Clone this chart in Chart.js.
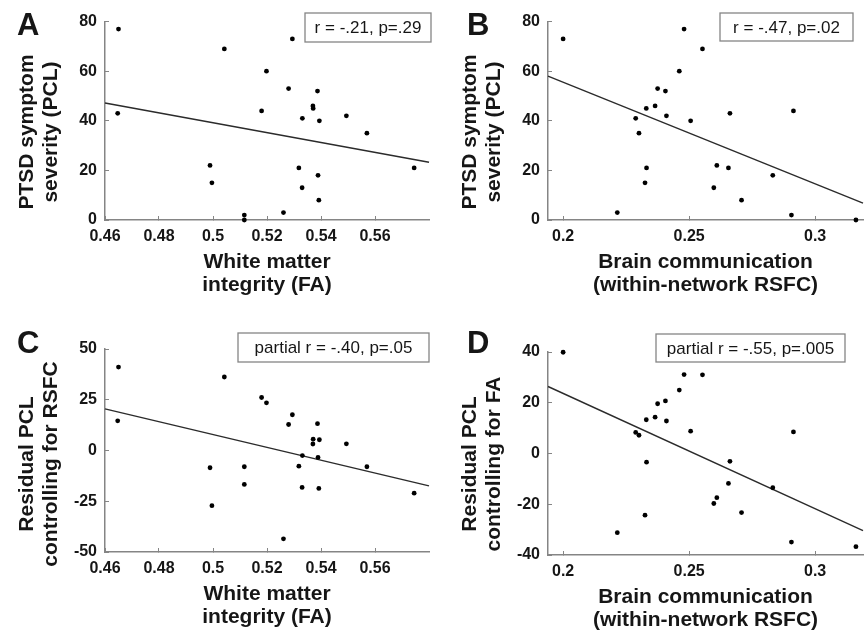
<!DOCTYPE html>
<html>
<head>
<meta charset="utf-8">
<script src="https://cdn.jsdelivr.net/npm/chart.js@4.4.1/dist/chart.umd.min.js"></script>
<style>
  body { margin: 0; background: #fff; }
  #fig { position: relative; width: 867px; height: 635px; overflow: hidden; }
  canvas { position: absolute; }
</style>
</head>
<body>
<div id="fig">
  <canvas id="chartA" width="433" height="300" style="left:0;top:0"></canvas>
  <canvas id="chartB" width="434" height="300" style="left:433px;top:0"></canvas>
  <canvas id="chartC" width="433" height="317" style="left:0;top:318px"></canvas>
  <canvas id="chartD" width="434" height="317" style="left:433px;top:318px"></canvas>
</div>
<script>
'use strict';

// subjects, same order in every panel
const faValues = [0.465, 0.4647, 0.5042, 0.4989, 0.4996, 0.5116, 0.5116, 0.518, 0.5198, 0.5294, 0.528, 0.5261,
    0.5318, 0.533, 0.5331, 0.537, 0.5371, 0.5387, 0.5394, 0.5389, 0.5392, 0.5494, 0.557, 0.5745];
const pclByFa = [77, 43, 69, 22, 15, 2, 0, 44, 60, 73, 53, 3, 21, 13, 41, 46, 45, 52, 40, 18, 8, 42, 35, 21];
const residByFa = [41.1, 14.6, 36.2, -8.5, -27.2, -8.0, -16.7, 26.1, 23.5, 17.6, 12.8, -43.5,
    -7.7, -18.2, -2.5, 3.2, 5.6, 13.2, 5.3, -3.4, -18.7, 3.3, -8.0, -21.0];

const rsfcValues = [0.2, 0.248, 0.2553, 0.2461, 0.2375, 0.2406, 0.233, 0.2365, 0.2288, 0.241, 0.2506, 0.2301,
    0.2331, 0.2325, 0.2215, 0.2662, 0.261, 0.2656, 0.2598, 0.2708, 0.2832, 0.2914, 0.2906, 0.3162];
const pclByRsfc = [73, 77, 69, 60, 53, 52, 45, 46, 41, 42, 40, 35, 21, 15, 3, 43, 22, 21, 13, 8, 18, 44, 2, 0];
const residByRsfc = [39.9, 31.1, 31.0, 25.0, 19.6, 20.7, 13.3, 14.3, 8.3, 12.8, 8.8, 7.2,
    -3.4, -24.3, -31.2, -3.1, -17.4, -11.8, -19.7, -23.3, -13.5, 8.5, -34.9, -36.7];

// fitted lines: [x, y] at both ends
const fitA = [[0.46, 47.2], [0.58, 23.3]];
const fitB = [[0.194, 58.0], [0.319, 6.8]];
const fitC = [[0.46, 20.5], [0.58, -17.4]];
const fitD = [[0.194, 26.4], [0.319, -30.4]];

// tick labels
const faTicks = [0.46, 0.48, 0.5, 0.52, 0.54, 0.56];
const rsfcTicks = [0.2, 0.25, 0.3];
const pclTicks = [0, 20, 40, 60, 80];
const residFaTicks = [-50, -25, 0, 25, 50];
const residRsfcTicks = [-40, -20, 0, 20, 40];

const FONT = "'Liberation Sans', Arial, Helvetica, sans-serif";
const AXIS_GRAY = '#858585';
const TEXT = '#161616';

Chart.defaults.font.family = FONT;

// letter, y title and stat box drawn on top of each panel
const panelDecor = {
    id: 'panelDecor',
    afterDraw(chart, args, o) {
        const ctx = chart.ctx;
        const area = chart.chartArea;
        ctx.save();
        ctx.fillStyle = TEXT;

        ctx.font = `bold 31px ${FONT}`;
        ctx.textAlign = 'left';
        ctx.textBaseline = 'alphabetic';
        ctx.fillText(o.letter, o.letterX, 35);

        ctx.font = `bold 21px ${FONT}`;
        ctx.textAlign = 'center';
        ctx.textBaseline = 'middle';
        for (let i = 0; i < o.yTitle.length; i++) {
            ctx.save();
            ctx.translate(area.left - 77.5 + i * 23.5, o.yTitleCenter);
            ctx.rotate(-Math.PI / 2);
            ctx.fillText(o.yTitle[i], 0, 0);
            ctx.restore();
        }

        const [bx, by, bw, bh] = o.box;
        ctx.strokeStyle = AXIS_GRAY;
        ctx.lineWidth = 1.3;
        ctx.fillStyle = '#fff';
        ctx.fillRect(bx, by, bw, bh);
        ctx.strokeRect(bx, by, bw, bh);
        ctx.fillStyle = TEXT;
        ctx.font = `17px ${FONT}`;
        ctx.fillText(o.stat, bx + bw / 2, by + bh / 2 + 1);
        ctx.restore();
    }
};

function fmt(v) {
    return String(+v.toFixed(3));
}

function makePanel(id, p) {
    const points = p.xs.map((x, i) => ({ x: x, y: p.ys[i] }));
    const line = p.fit.map(d => ({ x: d[0], y: d[1] }));

    return new Chart(document.getElementById(id), {
        type: 'scatter',
        data: {
            datasets: [
                {
                    data: points,
                    backgroundColor: '#000',
                    borderWidth: 0,
                    pointRadius: 2.4,
                    clip: false
                },
                {
                    data: line,
                    showLine: true,
                    borderColor: '#2b2b2b',
                    borderWidth: 1.4,
                    pointRadius: 0,
                    clip: false
                }
            ]
        },
        options: {
            responsive: false,
            animation: false,
            layout: { padding: { left: 0, top: p.top, right: p.right, bottom: 0 } },
            plugins: {
                legend: { display: false },
                tooltip: { enabled: false },
                panelDecor: p.decor
            },
            scales: {
                x: {
                    type: 'linear',
                    min: p.xMin,
                    max: p.xMax,
                    afterBuildTicks: s => { s.ticks = p.xTicks.map(v => ({ value: v })); },
                    afterFit: s => { s.height = p.xAxisHeight; },
                    grid: { drawOnChartArea: false, drawTicks: true, tickLength: -4, color: AXIS_GRAY, lineWidth: 1 },
                    border: { display: true, color: AXIS_GRAY, width: 1.5 },
                    ticks: { padding: 11, color: TEXT, font: { size: 16, weight: 'bold' }, callback: v => fmt(v) },
                    title: {
                        display: true,
                        text: p.xTitle,
                        color: TEXT,
                        font: { size: 21, weight: 'bold', lineHeight: 1.1 },
                        padding: { top: 0, bottom: p.xTitlePad }
                    }
                },
                y: {
                    type: 'linear',
                    min: p.yTicks[0],
                    max: p.yTicks[p.yTicks.length - 1],
                    afterBuildTicks: s => { s.ticks = p.yTicks.map(v => ({ value: v })); },
                    afterFit: s => { s.width = p.yAxisWidth; },
                    grid: { drawOnChartArea: false, drawTicks: true, tickLength: -4, color: AXIS_GRAY, lineWidth: 1 },
                    border: { display: true, color: AXIS_GRAY, width: 1.5 },
                    ticks: { padding: 12, color: TEXT, font: { size: 16, weight: 'bold' }, callback: v => fmt(v) }
                }
            }
        },
        plugins: [panelDecor]
    });
}

makePanel('chartA', {
    xs: faValues, ys: pclByFa, fit: fitA,
    xMin: 0.46, xMax: 0.58, xTicks: faTicks, yTicks: pclTicks,
    top: 17, right: 4, yAxisWidth: 105, xAxisHeight: 80, xTitlePad: 3,
    xTitle: ['White matter', 'integrity (FA)'],
    decor: { letter: 'A', letterX: 17, yTitle: ['PTSD symptom', 'severity (PCL)'], yTitleCenter: 132,
        stat: 'r = -.21, p=.29', box: [305, 13, 126, 29] }
});

makePanel('chartB', {
    xs: rsfcValues, ys: pclByRsfc, fit: fitB,
    xMin: 0.194, xMax: 0.319, xTicks: rsfcTicks, yTicks: pclTicks,
    top: 18, right: 0, yAxisWidth: 115, xAxisHeight: 80, xTitlePad: 3,
    xTitle: ['Brain communication', '(within-network RSFC)'],
    decor: { letter: 'B', letterX: 34, yTitle: ['PTSD symptom', 'severity (PCL)'], yTitleCenter: 132,
        stat: 'r = -.47, p=.02', box: [287, 13, 133, 28] }
});

makePanel('chartC', {
    xs: faValues, ys: residByFa, fit: fitC,
    xMin: 0.46, xMax: 0.58, xTicks: faTicks, yTicks: residFaTicks,
    top: 31, right: 4, yAxisWidth: 105, xAxisHeight: 83, xTitlePad: 6,
    xTitle: ['White matter', 'integrity (FA)'],
    decor: { letter: 'C', letterX: 17, yTitle: ['Residual PCL', 'controlling for RSFC'], yTitleCenter: 146,
        stat: 'partial r = -.40, p=.05', box: [238, 15, 191, 29] }
});

makePanel('chartD', {
    xs: rsfcValues, ys: residByRsfc, fit: fitD,
    xMin: 0.194, xMax: 0.319, xTicks: rsfcTicks, yTicks: residRsfcTicks,
    top: 34, right: 0, yAxisWidth: 115, xAxisHeight: 80, xTitlePad: 3,
    xTitle: ['Brain communication', '(within-network RSFC)'],
    decor: { letter: 'D', letterX: 34, yTitle: ['Residual PCL', 'controlling for FA'], yTitleCenter: 146,
        stat: 'partial r = -.55, p=.005', box: [223, 16, 189, 28] }
});
</script>
</body>
</html>
